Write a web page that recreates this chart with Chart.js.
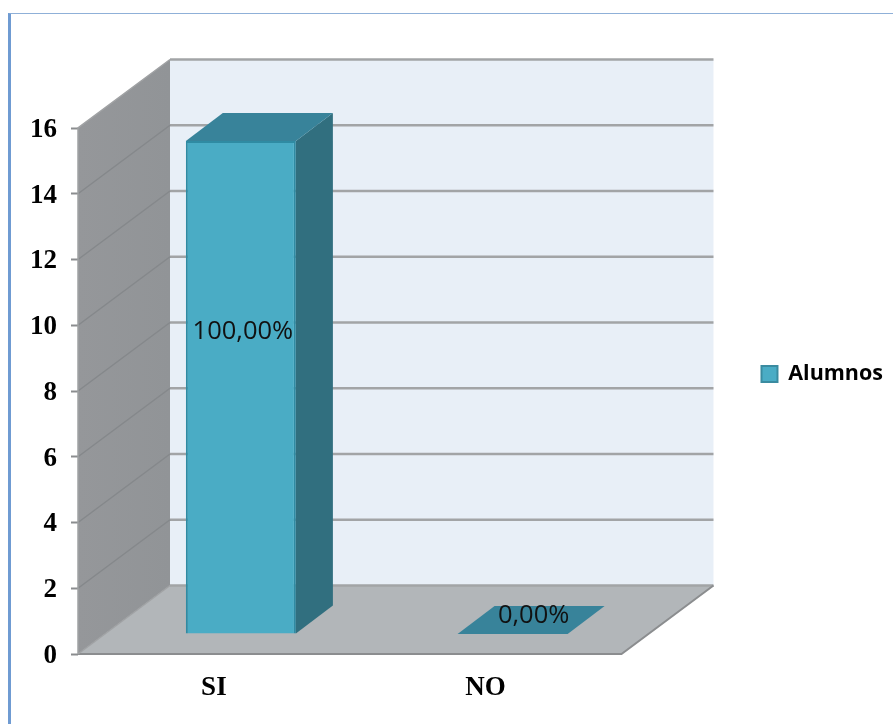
<!DOCTYPE html>
<html><head><meta charset="utf-8">
<script src="https://cdn.jsdelivr.net/npm/chart.js@4"></script>
<style>
html,body{margin:0;padding:0;background:#fff;width:893px;height:724px;overflow:hidden}
#wrap{position:relative;width:893px;height:724px}
#frame{position:absolute;left:8px;top:13px;right:0;bottom:0;border-left:3px solid #6f9bd2;border-top:1.5px solid #8fb0d8}
canvas{position:absolute;left:0;top:0}
</style></head><body>
<div id="wrap"><div id="frame"></div><canvas id="c" width="893" height="724"></canvas></div>
<script>
const categories = ['SI','NO'];
const seriesName = 'Alumnos';
const alumnos = [15, 0];
const percentLabels = ['100,00%','0,00%'];
const yTicks = [0,2,4,6,8,10,12,14,16];

const WALL = {dx:92, dy:-68.5};
const BAR_SHIFT = {dx:27, dy:-20};
const BAR_DEPTH = {dx:37, dy:-28};
function poly(ctx, pts, fill, stroke, lw){
  ctx.beginPath();
  pts.forEach((p,i)=> i?ctx.lineTo(p[0],p[1]):ctx.moveTo(p[0],p[1]));
  ctx.closePath();
  if(fill){ctx.fillStyle=fill;ctx.fill();}
  if(stroke){ctx.strokeStyle=stroke;ctx.lineWidth=lw||1;ctx.stroke();}
}
const box3d = {
  id:'box3d',
  beforeDatasetsDraw(chart){
    const ctx=chart.ctx, a=chart.chartArea, y=chart.scales.y;
    const L=a.left,R=a.right,T=a.top,B=a.bottom,dx=WALL.dx,dy=WALL.dy;
    ctx.save();
    poly(ctx,[[L+dx,T+dy],[R+dx,T+dy],[R+dx,B+dy],[L+dx,B+dy]],'#e8eff7');
    const g=ctx.createLinearGradient(L,0,L+dx,0);
    g.addColorStop(0,'#95979a');g.addColorStop(1,'#919497');
    poly(ctx,[[L,T],[L+dx,T+dy],[L+dx,B+dy],[L,B]],g);
    poly(ctx,[[L,B],[L+dx,B+dy],[R+dx,B+dy],[R,B]],'#b2b6b9');
    yTicks.forEach(v=>{
      const p=y.getPixelForValue(v);
      ctx.lineWidth=2.4;ctx.strokeStyle='#a2a4a6';
      ctx.beginPath();ctx.moveTo(L+dx,p+dy);ctx.lineTo(R+dx,p+dy);ctx.stroke();
      if(v>0 && v<16){
        ctx.lineWidth=1.5;ctx.strokeStyle='#85888b';
        ctx.beginPath();ctx.moveTo(L,p);ctx.lineTo(L+dx,p+dy);ctx.stroke();
      }
    });
    ctx.strokeStyle='#8b8d8f';ctx.lineWidth=2;
    ctx.beginPath();ctx.moveTo(L,B);ctx.lineTo(R,B);ctx.lineTo(R+dx,B+dy);ctx.stroke();
    ctx.strokeStyle='#a0a2a4';ctx.lineWidth=1.5;
    ctx.beginPath();ctx.moveTo(L,B);ctx.lineTo(L,T);ctx.lineTo(L+dx,T+dy);ctx.stroke();
    ctx.beginPath();ctx.moveTo(L,B);ctx.lineTo(L+dx,B+dy);ctx.stroke();
    ctx.restore();
    ctx.save();
    ctx.translate(BAR_SHIFT.dx,BAR_SHIFT.dy);
  },
  afterDatasetsDraw(chart){
    const ctx=chart.ctx, meta=chart.getDatasetMeta(0), d=BAR_DEPTH;
    meta.data.forEach(el=>{
      const {x,y,base,width}=el.getProps(['x','y','base','width'],true);
      const l=x-width/2,r=x+width/2;
      if(base-y>0.5){
        poly(ctx,[[r,y],[r+d.dx,y+d.dy],[r+d.dx,base+d.dy],[r,base]],'#316f7f');
      }
      poly(ctx,[[l,y],[l+d.dx,y+d.dy],[r+d.dx,y+d.dy],[r,y]],'#38839a');
    });
    ctx.fillStyle='#111';
    ctx.font='25.5px "Open Sans"';
    ctx.textAlign='center';ctx.textBaseline='middle';
    meta.data.forEach((el,i)=>{
      const {x,y,base}=el.getProps(['x','y','base'],true);
      const h=base-y;
      const ly=h>0.5?base-h*0.612:base-18;
      const lx=h>0.5?x+2:x+21;
      ctx.fillText(percentLabels[i],lx,ly);
    });
    ctx.restore();
  }
};
new Chart(document.getElementById('c'),{
  type:'bar',
  data:{labels:categories,datasets:[{
    label:seriesName,data:alumnos,
    backgroundColor:'#4aacc5',borderColor:'#2f8ba3',
    borderWidth:ctx=>ctx.raw>0?2:0,
    barPercentage:0.405,categoryPercentage:1
  }]},
  plugins:[box3d],
  options:{
    responsive:false,animation:false,
    layout:{padding:{top:24,left:0,right:0,bottom:0}},
    plugins:{
      tooltip:{enabled:false},
      legend:{position:'right',
        labels:{boxWidth:16,boxHeight:16,padding:11,color:'#111',
          font:{family:'"Open Sans"',size:21.5,weight:'bold'},
          generateLabels(chart){return [{text:seriesName,fillStyle:'#4aacc5',strokeStyle:'#3a8ba0',lineWidth:2,datasetIndex:0}];}
        }}
    },
    scales:{
      x:{position:'bottom',grid:{display:false},border:{display:false},
        ticks:{color:'#000',padding:10,maxRotation:0,font:{family:'"Liberation Serif"',size:27,weight:'bold'}},
        afterFit(s){s.height=70;}},
      y:{position:'left',min:0,max:16,
        grid:{drawOnChartArea:false,color:'#8b8d8f',tickLength:7,tickWidth:2},border:{display:false},
        ticks:{stepSize:2,color:'#000',padding:14,labelOffset:2,font:{family:'"Liberation Serif"',size:27,weight:'bold'},
          callback:v=>yTicks.includes(v)?String(v):''},
        afterFit(s){s.width=78;}},
      y2:{position:'right',display:true,grid:{display:false},border:{display:false},ticks:{display:false},
        afterFit(s){s.width=129;}},
      x2:{position:'top',display:true,grid:{display:false},border:{display:false},ticks:{display:false},
        afterFit(s){s.height=104;}}
    }
  }
});
</script>
</body></html>
